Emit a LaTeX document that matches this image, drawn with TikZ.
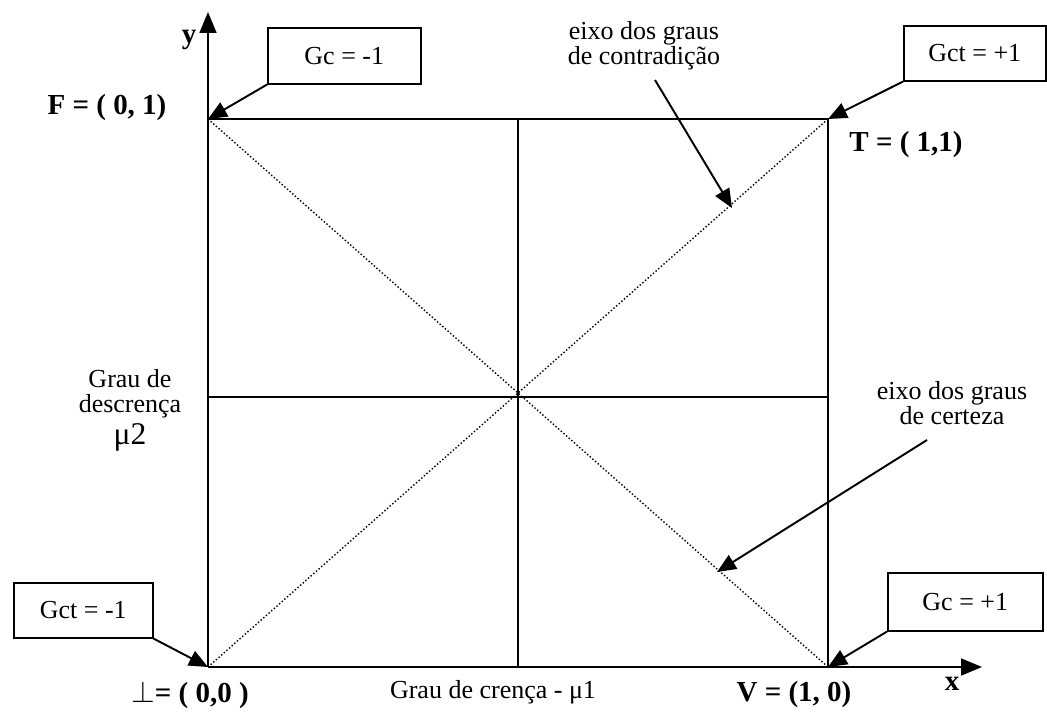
\documentclass[tikz,border=0pt]{standalone}
\usepackage{fontspec}
\setmainfont{Liberation Serif}
\usetikzlibrary{arrows.meta}

\tikzset{
  gbox/.style={draw, line width=0.9pt, inner sep=0pt, align=center},
  ptr/.style={-{Triangle[length=0.38cm, width=0.32cm]}, line width=1.1pt},
  axis/.style={-{Triangle[length=0.42cm, width=0.34cm]}, line width=1pt},
  diag/.style={line width=0.8pt, dash pattern=on 0.8pt off 1.2pt},
  lbl/.style={font=\fontsize{16.5}{18}\selectfont\bfseries},
}

\begin{document}
\begin{tikzpicture}[x=0.02cm, y=-0.02cm, line width=0.9pt, font=\fontsize{14.8}{14.5}\selectfont]
	\useasboundingbox (0,0) rectangle (1047,717);
	% corners of the square, one unit is one pixel of the page, y runs downwards
	\coordinate (O) at (208,667);
	\coordinate (F) at (208,119);
	\coordinate (T) at (828,119);
	\coordinate (V) at (828,667);
	\coordinate (C) at (518,397);
	\coordinate (ytip) at (208,12);
	\coordinate (xtip) at (982,667);
	% axes
	\draw[axis] (O) -- (ytip);
	\draw[axis] (O) -- (xtip);
	% square and its quarters
	\draw (F) -- (T) -- (V);
	\draw (O |- C) -- (V |- C);
	\draw (C |- F) -- (C |- O);
	% the two diagonals
	\draw[diag] (O) -- (T);
	\draw[diag] (F) -- (V);
	% corner boxes
	\node[gbox, minimum width=3.06cm, minimum height=1.12cm, anchor=north west] (gcneg) at (267,27) {Gc = -1};
	\node[gbox, minimum width=2.84cm, minimum height=1.1cm, anchor=north west] (gctpos) at (903,25) {Gct = +1};
	\node[gbox, minimum width=2.78cm, minimum height=1.1cm, anchor=north west] (gctneg) at (13,582) {Gct = -1};
	\node[gbox, minimum width=3.1cm, minimum height=1.16cm, anchor=north west] (gcpos) at (887,572) {Gc = +1};
	\draw[ptr] (gcneg.south west) -- (F);
	\draw[ptr] (gctpos.south west) -- (T);
	\draw[ptr] (gctneg.south east) -- (O);
	\draw[ptr] (gcpos.south west) -- (V);
	% corner names
	\node[lbl] (nF) at (107,108) {F = ( 0, 1)};
	\node[lbl] (nT) at (906,145) {T = ( 1,1)};
	\node[lbl] (nO) at (190,695) {$\perp$= ( 0,0 )};
	\node[lbl] (nV) at (794,695) {V = (1, 0)};
	\node[lbl] (nx) at (952,684) {x};
	\node[lbl] (ny) at (189,40) {y};
	% axis names
	\node (crenca) at (493,692) {Grau de crença - μ1};
	\node[align=center] (descrenca) at (130,410) {Grau de\\descrença\\[2pt]{\fontsize{18}{18}\selectfont μ2}};
	% the two axes of the degrees
	\node[align=center] (contr) at (644,46) {eixo dos graus\\de contradição};
	\node[align=center] (cert) at (952,403) {eixo dos graus\\de certeza};
	\coordinate (ctail) at (655,80);
	\coordinate (chead) at (732,208);
	\coordinate (etail) at (927,440);
	\coordinate (ehead) at (717,572);
	\draw[ptr] (ctail) -- (chead);
	\draw[ptr] (etail) -- (ehead);
\end{tikzpicture}
\end{document}
